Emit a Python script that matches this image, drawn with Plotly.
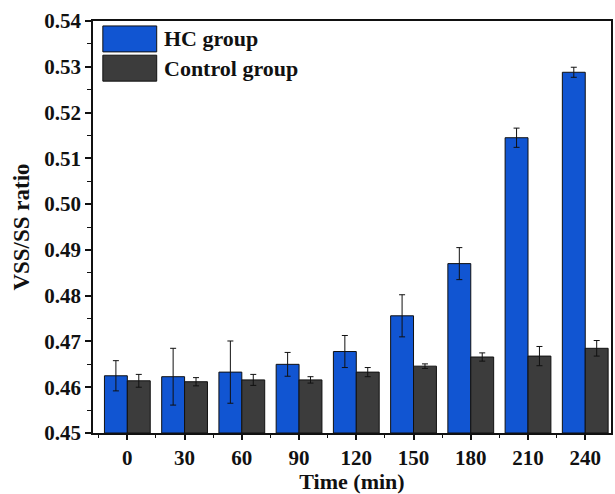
import plotly.graph_objects as go

# Sampling times (min) and VSS/SS ratios with standard deviations
times = ["0", "30", "60", "90", "120", "150", "180", "210", "240"]
hc_ratio = [0.4625, 0.4623, 0.4633, 0.4650, 0.4678, 0.4756, 0.4870, 0.5145, 0.5288]
hc_err = [0.0033, 0.0062, 0.0068, 0.0026, 0.0035, 0.0046, 0.0035, 0.0021, 0.0011]
ctrl_ratio = [0.4614, 0.4612, 0.4616, 0.4616, 0.4633, 0.4646, 0.4666, 0.4668, 0.4685]
ctrl_err = [0.0014, 0.0009, 0.0012, 0.0007, 0.0010, 0.0005, 0.0009, 0.0021, 0.0017]

series_names = ["HC group", "Control group"]
series_colors = ["#1155D2", "#3C3C3C"]

FONT = "Liberation Serif"
Y0 = 0.45
pos = list(range(len(times)))

fig = go.Figure()
for name, vals, errs, color in zip(series_names, [hc_ratio, ctrl_ratio],
                                   [hc_err, ctrl_err], series_colors):
    fig.add_trace(go.Bar(
        x=pos,
        y=[v - Y0 for v in vals],
        base=Y0,
        name=name,
        marker=dict(color=color, line=dict(color="#111111", width=1)),
        error_y=dict(type="data", array=errs, color="#111111",
                     thickness=1, width=3),
        showlegend=False,
    ))

# Legend drawn as large swatches with bold labels
sw = [(0.988, 0.925), (0.917, 0.854)]
for (top, bot), name, color in zip(sw, series_names, series_colors):
    fig.add_shape(type="rect", xref="paper", yref="paper",
                  x0=0.019, x1=0.123, y0=bot, y1=top,
                  fillcolor=color, line=dict(color="#111111", width=1))
    fig.add_annotation(xref="paper", yref="paper", x=0.133, y=(top + bot) / 2,
                       text="<b>%s</b>" % name, showarrow=False,
                       xanchor="left", yanchor="middle",
                       font=dict(family=FONT, size=22, color="#111111"))

fig.update_layout(
    width=615, height=494,
    margin=dict(l=93, r=2, t=21, b=61),
    paper_bgcolor="white", plot_bgcolor="white",
    barmode="group", bargap=0.2, bargroupgap=0,
    font=dict(family=FONT, color="#111111"),
)
fig.update_xaxes(
    range=[-0.6, 8.45],
    tickvals=pos, ticktext=["<b>%s</b>" % t for t in times],
    showline=True, linecolor="#111111", linewidth=1.5, mirror=True,
    ticks="outside", ticklen=5, tickwidth=1.5, tickcolor="#111111",
    minor=dict(tickvals=[p + 0.5 for p in pos[:-1]] + [-0.5],
               ticks="outside", ticklen=3, tickwidth=1, tickcolor="#111111"),
    tickfont=dict(family=FONT, size=21),
    title=dict(text="<b>Time (min)</b>", font=dict(family=FONT, size=22), standoff=2),
    showgrid=False, zeroline=False,
)
fig.update_yaxes(
    range=[0.45, 0.54], dtick=0.01, tickformat=".2f",
    showline=True, linecolor="#111111", linewidth=1.5, mirror=True,
    ticks="outside", ticklen=6, tickwidth=1.5, tickcolor="#111111",
    minor=dict(dtick=0.005, ticks="outside", ticklen=4, tickwidth=1, tickcolor="#111111"),
    tickfont=dict(family=FONT, size=21),
    tickprefix="<b>", ticksuffix="</b>",
    title=dict(text="<b>VSS/SS ratio</b>", font=dict(family=FONT, size=23), standoff=8),
    showgrid=False, zeroline=False,
)

fig.write_html("out.html")
